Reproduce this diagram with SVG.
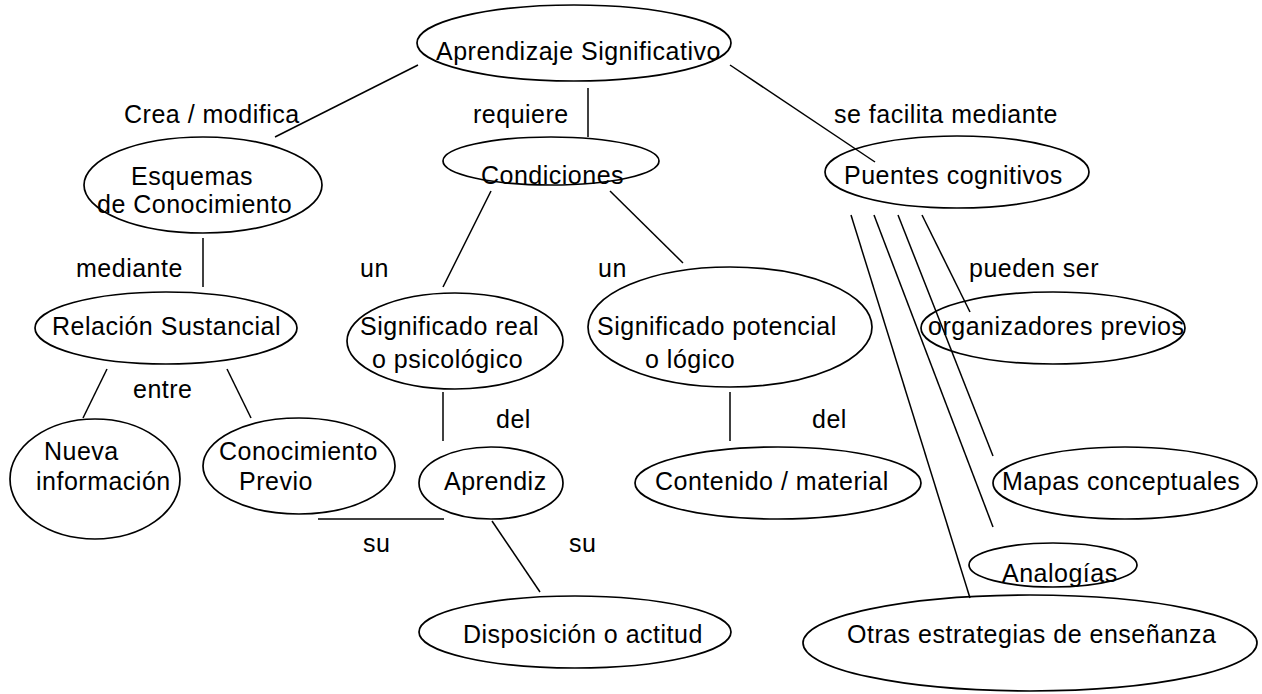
<svg xmlns="http://www.w3.org/2000/svg" width="1262" height="694" viewBox="0 0 1262 694">
<style>
.n{fill:none;stroke:#000;stroke-width:1.7}
.t{font-family:"Liberation Sans",Arial,sans-serif;font-size:25px;letter-spacing:0.5px;fill:#000}
.c line{stroke:#000;stroke-width:1.5}
</style>
<rect width="1262" height="694" fill="#fff"/>
<g id="connectors" class="c">
<line x1="418" y1="65" x2="275" y2="137"/>
<line x1="588" y1="88" x2="588" y2="137"/>
<line x1="730" y1="65" x2="875" y2="162"/>
<line x1="203" y1="238" x2="203" y2="287"/>
<line x1="491" y1="191" x2="443" y2="287"/>
<line x1="610" y1="191" x2="683" y2="263"/>
<line x1="851" y1="215" x2="970" y2="598"/>
<line x1="874" y1="215" x2="993" y2="527"/>
<line x1="898" y1="215" x2="993" y2="456"/>
<line x1="922" y1="215" x2="970" y2="312"/>
<line x1="107" y1="369" x2="83" y2="418"/>
<line x1="227" y1="369" x2="251" y2="418"/>
<line x1="443" y1="392" x2="443" y2="441"/>
<line x1="730" y1="392" x2="730" y2="441"/>
<line x1="318" y1="519" x2="444" y2="519"/>
<line x1="492" y1="521" x2="540" y2="592"/>
</g>
<g id="labels" class="t">
<text x="124" y="123">Crea / modifica</text>
<text x="473" y="123">requiere</text>
<text x="834" y="123">se facilita mediante</text>
<text x="76" y="277">mediante</text>
<text x="360" y="277">un</text>
<text x="598" y="277">un</text>
<text x="969" y="277">pueden ser</text>
<text x="133" y="398">entre</text>
<text x="496" y="428">del</text>
<text x="812" y="428">del</text>
<text x="363" y="552">su</text>
<text x="569" y="552">su</text>
</g>
<g id="aprendizaje"><ellipse class="n" cx="574" cy="43" rx="157" ry="38"/><text class="t" x="436" y="60">Aprendizaje Significativo</text></g>
<g id="esquemas"><ellipse class="n" cx="203" cy="185" rx="119" ry="48"/><text class="t" x="131" y="185">Esquemas</text><text class="t" x="97" y="213">de Conocimiento</text></g>
<g id="condiciones"><ellipse class="n" cx="551" cy="161" rx="108" ry="24"/><text class="t" x="481" y="184">Condiciones</text></g>
<g id="puentes"><ellipse class="n" cx="957" cy="172" rx="132" ry="36"/><text class="t" x="844" y="184">Puentes cognitivos</text></g>
<g id="relacion"><ellipse class="n" cx="166" cy="328" rx="131" ry="36"/><text class="t" x="52" y="335">Relación Sustancial</text></g>
<g id="sig-real"><ellipse class="n" cx="455" cy="341" rx="108" ry="48"/><text class="t" x="360" y="335">Significado real</text><text class="t" x="372" y="368">o psicológico</text></g>
<g id="sig-potencial"><ellipse class="n" cx="730" cy="327" rx="142" ry="60"/><text class="t" x="597" y="335">Significado potencial</text><text class="t" x="645" y="368">o lógico</text></g>
<g id="organizadores"><ellipse class="n" cx="1053" cy="328" rx="132" ry="36"/><text class="t" x="928" y="335">organizadores previos</text></g>
<g id="nueva"><ellipse class="n" cx="95" cy="479" rx="85" ry="60"/><text class="t" x="44" y="460">Nueva</text><text class="t" x="36" y="490">información</text></g>
<g id="conocimiento"><ellipse class="n" cx="299" cy="466" rx="96" ry="48"/><text class="t" x="219" y="460">Conocimiento</text><text class="t" x="239" y="490">Previo</text></g>
<g id="aprendiz"><ellipse class="n" cx="491" cy="483" rx="72" ry="36"/><text class="t" x="444" y="490">Aprendiz</text></g>
<g id="contenido"><ellipse class="n" cx="778" cy="483" rx="143" ry="36"/><text class="t" x="655" y="490">Contenido / material</text></g>
<g id="mapas"><ellipse class="n" cx="1125" cy="483" rx="132" ry="36"/><text class="t" x="1002" y="490">Mapas conceptuales</text></g>
<g id="analogias"><ellipse class="n" cx="1053" cy="565" rx="84" ry="22"/><text class="t" x="1002" y="582">Analogías</text></g>
<g id="disposicion"><ellipse class="n" cx="575" cy="632" rx="156" ry="36"/><text class="t" x="463" y="643">Disposición o actitud</text></g>
<g id="otras"><ellipse class="n" cx="1030" cy="643" rx="227" ry="48"/><text class="t" x="847" y="643">Otras estrategias de enseñanza</text></g>
</svg>
